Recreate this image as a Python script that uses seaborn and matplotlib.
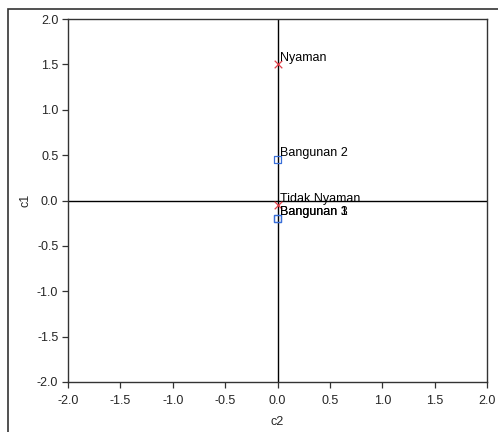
import matplotlib
matplotlib.use("Agg")
import matplotlib.pyplot as plt
import seaborn as sns
import pandas as pd
from matplotlib.patches import Rectangle

# Correspondence map coordinates (c2 horizontal, c1 vertical)
row_labels = ["Bangunan 1", "Bangunan 2", "Bangunan 3"]
row_c2 = [0.0, 0.0, 0.0]
row_c1 = [-0.20, 0.45, -0.20]

col_labels = ["Nyaman", "Tidak Nyaman"]
col_c2 = [0.0, 0.0]
col_c1 = [1.50, -0.05]

ticks = [-2.0, -1.5, -1.0, -0.5, 0.0, 0.5, 1.0, 1.5, 2.0]

rows = pd.DataFrame({"label": row_labels, "c2": row_c2, "c1": row_c1})
cols = pd.DataFrame({"label": col_labels, "c2": col_c2, "c1": col_c1})

sns.set_style("white")
plt.rcParams["font.family"] = ["Liberation Sans", "DejaVu Sans"]

fig = plt.figure(figsize=(4.98, 4.32), dpi=100)
ax = fig.add_axes([68 / 498, 1 - 382 / 432, (487 - 68) / 498, (382 - 19) / 432])

# outer frame around the whole chart
fig.patches.append(Rectangle((8 / 498, -0.1), 1.2, 1 - 9 / 432 + 0.1,
                             transform=fig.transFigure, fill=False,
                             edgecolor="#333333", linewidth=1.2))

ax.axhline(0, color="black", linewidth=1.0, zorder=1)
ax.axvline(0, color="black", linewidth=1.0, zorder=1)

sns.scatterplot(data=rows, x="c2", y="c1", ax=ax, marker="s", s=24,
                facecolors="none", edgecolor="#3a6fd8", linewidth=0.9, zorder=3)
sns.scatterplot(data=cols, x="c2", y="c1", ax=ax, marker="x", s=30,
                color="#e0404a", linewidth=0.9, zorder=3)

for df in (rows, cols):
    for _, r in df.iterrows():
        ax.annotate(r["label"], (r["c2"], r["c1"]), xytext=(2, 2.5),
                    textcoords="offset points", fontsize=9, color="black",
                    va="baseline", ha="left")

ax.set_xlim(-2, 2)
ax.set_ylim(-2, 2)
ax.set_xticks(ticks)
ax.set_yticks(ticks)
ax.set_xticklabels([f"{t:.1f}" for t in ticks], fontsize=9)
ax.set_yticklabels([f"{t:.1f}" for t in ticks], fontsize=9)
ax.tick_params(axis="x", length=4, width=0.9, color="#333333",
               bottom=True, top=False, pad=5)
ax.tick_params(axis="y", length=4, width=0.9, color="#333333",
               left=True, right=False, pad=3)
ax.set_xlabel("c2", fontsize=9, labelpad=7)
ax.set_ylabel("c1", fontsize=9, labelpad=4)
for sp in ax.spines.values():
    sp.set_color("#333333")
    sp.set_linewidth(1.0)

fig.savefig("out.png", dpi=100)
